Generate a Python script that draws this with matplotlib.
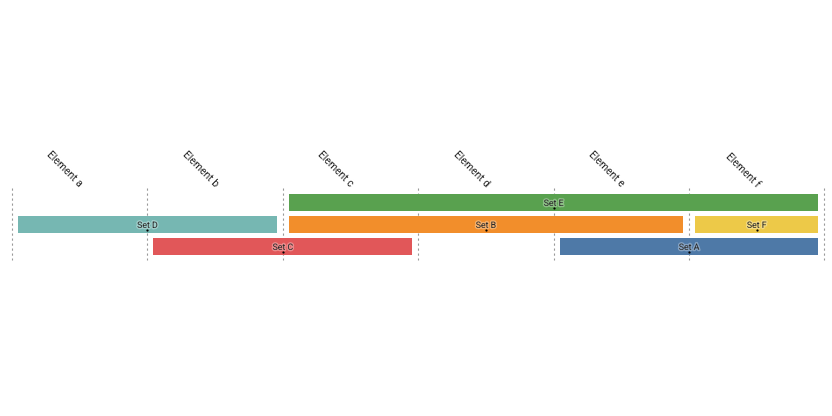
import matplotlib
matplotlib.use("Agg")
import matplotlib.pyplot as plt
import matplotlib.patheffects as pe

elements = ["Element a", "Element b", "Element c", "Element d", "Element e", "Element f"]
set_names = ["Set E", "Set D", "Set B", "Set F", "Set C", "Set A"]
set_start = [2, 0, 2, 5, 1, 4]   # first element index
set_end = [5, 1, 4, 5, 2, 5]     # last element index
set_row = [0, 1, 1, 1, 2, 2]
set_colors = ["#59a14f", "#76b7b2", "#f28e2b", "#edc948", "#e15759", "#4e79a7"]

W, H = 832, 416
fig = plt.figure(figsize=(W / 100, H / 100), dpi=100)
ax = fig.add_axes([0, 0, 1, 1])
colw = 135.4
x0 = 12
rowh = 22
y0 = 202.5
ax.set_xlim(-x0 / colw, (W - x0) / colw)
ax.set_ylim((H - y0) / rowh, -y0 / rowh)
ax.axis("off")

n = len(elements)
for i in range(n + 1):
    ax.plot([i, i], [-0.66, 2.61], color="#999999", lw=0.8, ls=(0, (2, 2.5)), zorder=1)

for i, e in enumerate(elements):
    ax.text(i + 0.5 + 0.01, -0.78, e, rotation=-45, rotation_mode="anchor",
            ha="right", va="center", fontsize=7.5, family="Roboto", color="#222222")

pad = 6 / colw
bh = 17 / rowh
halo = [pe.withStroke(linewidth=2.0, foreground="white", alpha=0.3)]
for name, s, e, r, c in zip(set_names, set_start, set_end, set_row, set_colors):
    ax.barh(r, (e + 1 - s) - 2 * pad, left=s + pad, height=bh, color=c, zorder=2)
    cx = (s + e + 1) / 2
    ax.text(cx, r + 0.04, name, ha="center", va="center", fontsize=6.3, family="Roboto",
            color="#2a2a2a", zorder=4, path_effects=halo)
    ax.plot([cx], [r + 0.26], marker="o", ms=1.6, color="black", mec="none", zorder=5)

fig.savefig("out.png", dpi=100, facecolor="white")
